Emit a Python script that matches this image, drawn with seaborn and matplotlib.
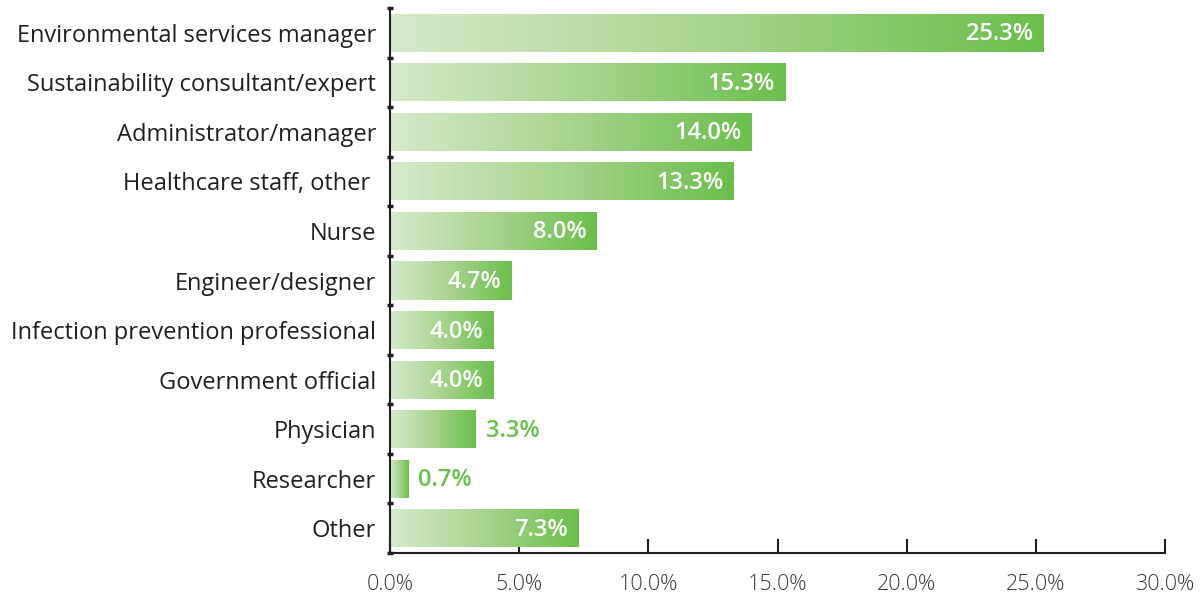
import numpy as np
import pandas as pd
import matplotlib
matplotlib.use("Agg")
import matplotlib.pyplot as plt
import seaborn as sns
from matplotlib.colors import LinearSegmentedColormap

categories = ["Environmental services manager", "Sustainability consultant/expert",
              "Administrator/manager", "Healthcare staff, other ", "Nurse",
              "Engineer/designer", "Infection prevention professional",
              "Government official", "Physician", "Researcher", "Other"]
values = [25.3, 15.3, 14.0, 13.3, 8.0, 4.7, 4.0, 4.0, 3.3, 0.7, 7.3]
xticks = [0, 5, 10, 15, 20, 25, 30]

sns.set_theme(style="white")
plt.rcParams['font.family'] = ['Open Sans', 'DejaVu Sans']

df = pd.DataFrame({"cat": categories, "val": values})
fig = plt.figure(figsize=(12.01, 6.02), dpi=100)
ax = fig.add_axes([390/1201, 1-553/602, (1165-390)/1201, (553-8)/602])

sns.barplot(data=df, x="val", y="cat", orient="h", ax=ax, width=0.77,
            color="#6abf4b", edgecolor="none")

cmap = LinearSegmentedColormap.from_list("g", ["#d6eacb", "#a8d48e", "#6abf4b"])
grad = np.linspace(0, 1, 256).reshape(1, -1)
ax.set_xlim(0, 30)
ax.set_ylim(len(categories) - 0.5, -0.5)
for p in ax.patches:
    x0, y0 = p.get_x(), p.get_y()
    w, h = p.get_width(), p.get_height()
    im = ax.imshow(grad, cmap=cmap, aspect="auto", extent=[x0, x0 + w, y0 + h, y0],
                   zorder=p.get_zorder() + 0.1)
    im.set_clip_path(p)
ax.set_xlim(0, 30)
ax.set_ylim(len(categories) - 0.5, -0.5)

for i, v in enumerate(values):
    if v >= 4:
        ax.text(v - 0.4, i + 0.03, f"{v:.1f}%", ha="right", va="center", color="white",
                fontsize=17, fontweight="semibold", zorder=5)
    else:
        ax.text(v + 0.4, i + 0.03, f"{v:.1f}%", ha="left", va="center", color="#6abf4b",
                fontsize=17, fontweight="semibold", zorder=5)

ax.set_xticks(xticks)
ax.set_xticklabels([f"{t:.1f}%" for t in xticks], fontsize=15.5, color="#3a3a3a",
                   fontweight="light")
ax.set_yticks(range(len(categories)))
ax.set_yticklabels(categories, fontsize=17, color="#231f20")
ax.set_xlabel("")
ax.set_ylabel("")
for s in ["top", "right"]:
    ax.spines[s].set_visible(False)
ax.spines["left"].set_color("#231f20")
ax.spines["bottom"].set_color("#231f20")
ax.spines["left"].set_linewidth(1.5)
ax.spines["bottom"].set_linewidth(1.5)
ax.tick_params(axis="x", bottom=True, direction="in", length=10, width=1.5,
               color="#231f20", pad=15)
ax.tick_params(axis="y", which="major", left=False, length=0, pad=10)
ax.set_yticks(np.arange(-0.5, len(categories), 1), minor=True)
ax.tick_params(axis="y", which="minor", left=True, direction="inout", length=4, width=2.5,
               color="#231f20")
ax.grid(False)

fig.savefig("out.png", dpi=100)
